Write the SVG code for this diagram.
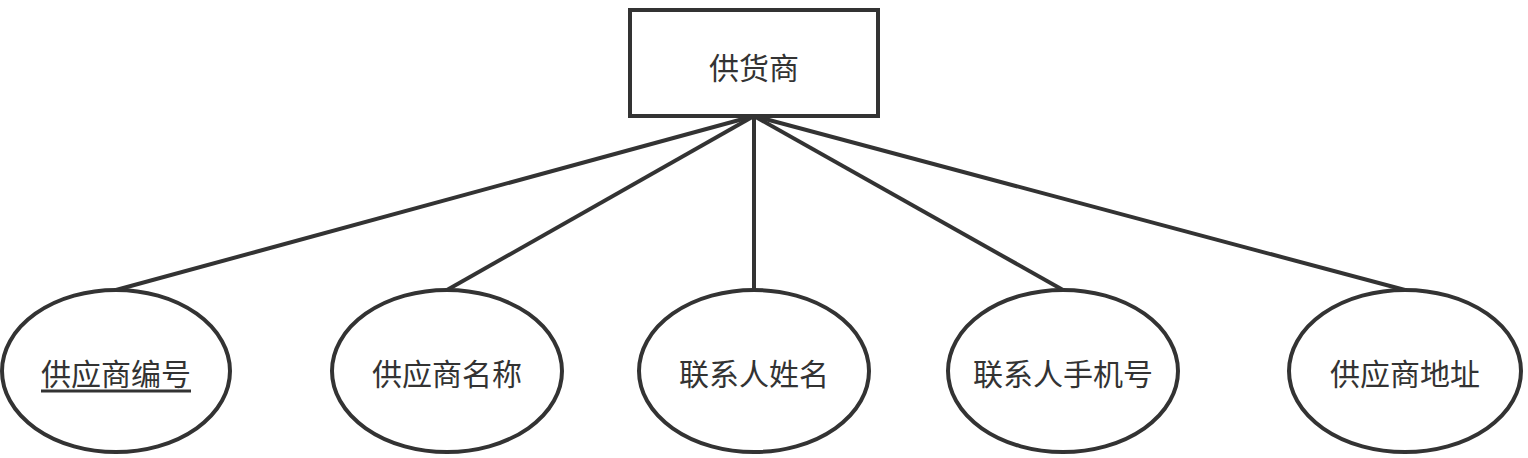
<svg xmlns="http://www.w3.org/2000/svg" width="1528" height="458" viewBox="0 0 1528 458">
<style>
.shape{fill:#fff;stroke:#333;stroke-width:4}
.edge{stroke:#333;stroke-width:4;fill:none}
.t{font-family:"Liberation Sans","Noto Sans CJK SC",sans-serif;font-size:30px;fill:#333;text-anchor:middle;dominant-baseline:central}
</style>
<rect width="1528" height="458" fill="#fff"/>
<g id="connectors">
<line class="edge" x1="754" y1="116" x2="116" y2="290"/>
<line class="edge" x1="754" y1="116" x2="447" y2="290"/>
<line class="edge" x1="754" y1="116" x2="754" y2="290"/>
<line class="edge" x1="754" y1="116" x2="1063" y2="290"/>
<line class="edge" x1="754" y1="116" x2="1405" y2="290"/>
</g>
<g id="supplier">
<rect class="shape" x="630" y="10" width="248" height="106"/>
<text class="t" x="754" y="68">供货商</text>
</g>
<g id="attr-id">
<ellipse class="shape" cx="116" cy="371" rx="114" ry="81"/>
<text class="t" x="116" y="374" text-decoration="underline">供应商编号</text>
</g>
<g id="attr-name">
<ellipse class="shape" cx="447" cy="371" rx="115" ry="81"/>
<text class="t" x="447" y="374">供应商名称</text>
</g>
<g id="attr-contact">
<ellipse class="shape" cx="754" cy="371" rx="115" ry="81"/>
<text class="t" x="754" y="374">联系人姓名</text>
</g>
<g id="attr-phone">
<ellipse class="shape" cx="1063" cy="371" rx="115" ry="81"/>
<text class="t" x="1063" y="374">联系人手机号</text>
</g>
<g id="attr-address">
<ellipse class="shape" cx="1405" cy="371" rx="116" ry="81"/>
<text class="t" x="1405" y="374">供应商地址</text>
</g>
</svg>
